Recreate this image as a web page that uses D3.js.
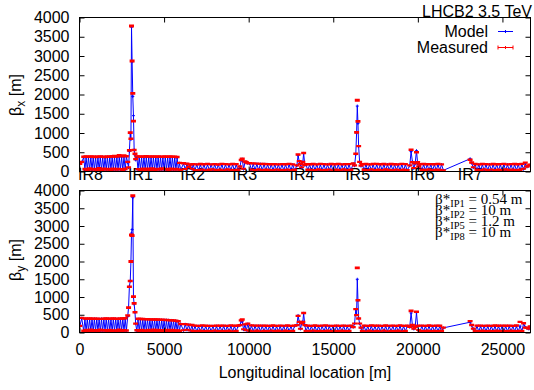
<!DOCTYPE html>
<html><head><meta charset="utf-8">
<script src="https://cdn.jsdelivr.net/npm/d3@7"></script>
<style>
html,body{margin:0;padding:0;background:#fff;}
svg text{font-family:"Liberation Sans",Arial,Helvetica,sans-serif;}
svg text.serif{font-family:"Liberation Serif","Times New Roman",serif;}
</style></head><body>
<svg id="chart" width="534" height="390"></svg>
<script>
// LHC beam 2 optics at 3.5 TeV: model and measured beta functions at the BPMs.
const ringLength = 26659;

// BPM longitudinal positions [m], grouped by insertion / arc
const sPos = [
  20, 130,
  250, 320, 390, 460, 530, 600, 670, 740, 810, 880, 950, 1020, 1090, 1160, 1230, 1300, 1370, 1440, 1510, 1580, 1650, 1720, 1790, 1860, 1930, 2000, 2070, 2140, 2210, 2280, 2350, 2420, 2490, 2560, 2630, 2700, 2770,
  2850, 2900, 2950, 3000, 3040, 3075, 3110, 3150, 3190, 3230, 3280, 3320,
  3390, 3460, 3530, 3600, 3670, 3740, 3810, 3880, 3950, 4020, 4090, 4160, 4230, 4300, 4370, 4440, 4510, 4580, 4650, 4720, 4790, 4860, 4930, 5000, 5070, 5140, 5210, 5280, 5350, 5420, 5490, 5560, 5630, 5700, 5770, 5840, 5910, 5980,
  6150, 6250, 6350, 6450, 6550, 6650,
  6720, 6826, 6932, 7038, 7144, 7250, 7356, 7462, 7568, 7674, 7780, 7886, 7992, 8098, 8204, 8310, 8416, 8522, 8628, 8734, 8840, 8946, 9052, 9158, 9264, 9370,
  9480, 9560, 9620, 9700, 9780, 9860, 9950,
  10060, 10166, 10272, 10378, 10484, 10590, 10696, 10802, 10908, 11014, 11120, 11226, 11332, 11438, 11544, 11650, 11756, 11862, 11968, 12074, 12180, 12286, 12392, 12498, 12604, 12710,
  12850, 12920, 12990, 13060, 13130, 13200, 13250, 13320,
  13390, 13496, 13602, 13708, 13814, 13920, 14026, 14132, 14238, 14344, 14450, 14556, 14662, 14768, 14874, 14980, 15086, 15192, 15298, 15404, 15510, 15616, 15722, 15828, 15934, 16040,
  16180, 16260, 16330, 16380, 16420, 16460, 16500, 16560, 16640,
  16720, 16826, 16932, 17038, 17144, 17250, 17356, 17462, 17568, 17674, 17780, 17886, 17992, 18098, 18204, 18310, 18416, 18522, 18628, 18734, 18840, 18946, 19052, 19158, 19264, 19370,
  19520, 19600, 19680, 19760, 19840, 19920, 19990, 20050,
  20130, 20236, 20342, 20448, 20554, 20660, 20766, 20872, 20978, 21084, 21190, 21296, 21402, 21508,
  23090, 23180, 23280,
  23390, 23496, 23602, 23708, 23814, 23920, 24026, 24132, 24238, 24344, 24450, 24556, 24662, 24768, 24874, 24980, 25086, 25192, 25298, 25404, 25510, 25616, 25722, 25828, 25934, 26040,
  26150, 26250, 26350, 26450, 26560, 26640
];

// Horizontal beta, model [m]
const betxModel = [
  190, 240,
  370, 43, 374, 41, 371, 44, 369, 42, 373, 43, 375, 40, 372, 44, 370, 42, 376, 43, 372, 41, 374, 45, 371, 44, 377, 42, 380, 43, 376, 41, 385, 44, 378, 42, 390, 44, 385,
  230, 100, 520, 1000, 830, 3750, 2850, 1950, 1450, 560, 430, 300,
  375, 44, 372, 42, 370, 43, 374, 41, 371, 44, 369, 42, 373, 43, 372, 40, 370, 44, 368, 42, 371, 43, 369, 41, 372, 44, 368, 42, 370, 43, 366, 42, 365, 41, 362, 43, 215, 40,
  205, 60, 190, 110, 170, 60,
  178, 32, 180, 31, 177, 33, 179, 32, 181, 30, 178, 32, 180, 33, 177, 31, 179, 32, 180, 30, 178, 33, 181, 32, 179, 31,
  120, 290, 320, 60, 250, 230, 210,
  205, 35, 200, 34, 196, 33, 192, 32, 188, 31, 185, 32, 182, 30, 180, 33, 179, 31, 181, 32, 178, 30, 180, 33, 179, 31,
  150, 420, 260, 180, 100, 240, 470, 160,
  180, 32, 178, 31, 181, 33, 179, 30, 180, 32, 177, 31, 180, 33, 178, 30, 181, 32, 179, 31, 180, 33, 178, 32, 181, 30,
  200, 150, 440, 1000, 1700, 1250, 650, 240, 140,
  179, 31, 181, 32, 178, 30, 180, 33, 179, 31, 182, 32, 178, 30, 180, 33, 177, 31, 181, 32, 179, 30, 180, 33, 178, 31,
  150, 520, 250, 80, 200, 540, 200, 120,
  180, 32, 178, 31, 181, 33, 179, 30, 180, 32, 178, 31, 181, 30,
  330, 220, 100,
  181, 30, 179, 32, 180, 31, 178, 33, 181, 30, 179, 32, 180, 31, 177, 33, 180, 30, 178, 32, 181, 31, 179, 33, 180, 30,
  180, 60, 200, 120, 150, 170
];

// Horizontal beta, measured [m]
const betxMeas = [
  200, 250,
  385, 62, 390, 40, 382, 75, 388, 48, 384, 66, 380, 38, 386, 80, 392, 44, 385, 70, 378, 52, 388, 60, 383, 46, 392, 72, 400, 50, 390, 64, 420, 58, 395, 45, 415, 68, 395,
  250, 110, 550, 1010, 850, 3780, 2870, 2030, 1310, 560, 460, 320,
  392, 60, 388, 42, 385, 72, 390, 45, 395, 68, 388, 40, 386, 78, 392, 46, 384, 64, 390, 50, 386, 74, 380, 55, 388, 62, 384, 44, 390, 70, 382, 48, 386, 66, 378, 52, 225, 45,
  215, 65, 200, 120, 180, 70,
  190, 38, 185, 34, 195, 48, 188, 30, 200, 44, 186, 52, 192, 35, 184, 46, 198, 33, 190, 50, 187, 41, 196, 34, 189, 47,
  130, 300, 330, 70, 262, 240, 215,
  218, 48, 210, 36, 205, 52, 200, 35, 195, 46, 190, 41, 188, 34, 192, 50, 186, 40, 194, 36, 188, 48, 196, 39, 185, 44,
  160, 440, 270, 190, 110, 250, 480, 170,
  192, 46, 188, 40, 196, 34, 185, 50, 199, 35, 190, 42, 187, 48, 194, 33, 189, 45, 197, 35, 186, 52, 193, 37, 190, 44,
  210, 160, 460, 1015, 1850, 1300, 660, 250, 150,
  188, 47, 195, 34, 186, 51, 193, 36, 198, 44, 189, 39, 194, 50, 187, 40, 196, 34, 190, 48, 185, 36, 197, 45, 191, 39,
  160, 565, 240, 90, 210, 500, 242, 130,
  190, 46, 196, 40, 187, 52, 194, 38, 189, 45, 198, 41, 186, 33,
  305, 234, 110,
  194, 45, 188, 39, 197, 50, 190, 37, 186, 48, 195, 34, 189, 46, 193, 36, 199, 50, 187, 40, 192, 47, 196, 39, 188, 44,
  200, 70, 230, 130, 160, 180
];

// Horizontal beta, measurement uncertainty [m]
const betxErr = [
  12, 12,
  12, 14, 14, 12, 11, 15, 13, 12, 12, 14, 15, 12, 12, 15, 13, 12, 12, 14, 14, 12, 13, 15, 12, 12, 14, 14, 15, 12, 13, 14, 18, 13, 14, 12, 16, 14, 14,
  12, 10, 15, 15, 15, 20, 18, 18, 15, 12, 12, 10,
  12, 14, 13, 12, 12, 14, 13, 12, 12, 14, 13, 12, 12, 14, 13, 12, 12, 14, 13, 12, 12, 14, 13, 12, 12, 14, 13, 12, 12, 14, 13, 12, 12, 14, 13, 12, 12, 10,
  12, 8, 12, 10, 12, 8,
  10, 10, 11, 9, 10, 12, 12, 9, 10, 12, 11, 10, 10, 9, 12, 12, 10, 9, 11, 12, 10, 10, 12, 9, 10, 12,
  10, 12, 12, 8, 12, 12, 10,
  11, 12, 10, 9, 12, 12, 10, 9, 11, 12, 10, 9, 12, 12, 10, 9, 11, 12, 10, 9, 12, 12, 10, 9, 11, 12,
  10, 12, 12, 10, 8, 12, 12, 10,
  10, 12, 12, 9, 11, 9, 10, 12, 12, 9, 11, 10, 10, 12, 12, 9, 11, 12, 10, 9, 12, 12, 11, 9, 10, 12,
  10, 10, 12, 15, 20, 15, 12, 10, 10,
  12, 12, 10, 9, 11, 12, 12, 9, 10, 12, 11, 9, 12, 12, 10, 9, 11, 9, 12, 12, 10, 9, 11, 12, 12, 9,
  10, 15, 12, 8, 10, 15, 12, 10,
  10, 12, 11, 9, 12, 12, 10, 9, 11, 12, 12, 9, 10, 8,
  12, 12, 8,
  11, 12, 10, 9, 12, 12, 11, 9, 10, 12, 12, 9, 11, 12, 10, 9, 12, 12, 11, 9, 10, 12, 12, 9, 11, 12,
  10, 8, 12, 10, 10, 10
];

// Vertical beta, model [m]
const betyModel = [
  180, 400,
  40, 380, 42, 382, 41, 379, 43, 381, 40, 383, 42, 380, 44, 378, 41, 382, 43, 380, 42, 384, 40, 382, 43, 379, 41, 381, 44, 383, 40, 380, 42, 384, 43, 382, 41, 386, 45,
  450, 700, 1300, 1450, 2000, 2800, 2900, 3800, 1000, 800, 570, 250,
  44, 372, 42, 370, 41, 368, 43, 366, 40, 365, 42, 362, 44, 360, 41, 358, 43, 356, 42, 354, 40, 352, 43, 350, 41, 348, 44, 345, 42, 340, 40, 335, 43, 325, 41, 310, 45, 240,
  60, 230, 70, 215, 50, 200,
  30, 180, 32, 178, 31, 181, 33, 179, 30, 180, 32, 177, 31, 180, 33, 178, 30, 181, 32, 179, 31, 180, 33, 178, 30, 181,
  200, 330, 300, 80, 220, 60, 240,
  34, 190, 33, 188, 32, 186, 31, 184, 30, 182, 32, 181, 31, 180, 33, 178, 30, 180, 32, 179, 31, 181, 33, 178, 30, 180,
  200, 480, 300, 100, 250, 300, 540, 200,
  31, 181, 33, 179, 30, 180, 32, 178, 31, 181, 33, 179, 30, 180, 32, 177, 31, 180, 33, 178, 30, 181, 32, 179, 31, 180,
  150, 250, 650, 500, 1500, 900, 400, 250, 130,
  32, 180, 30, 178, 33, 181, 31, 179, 32, 180, 30, 177, 33, 181, 31, 179, 32, 180, 30, 178, 33, 181, 31, 179, 32, 180,
  150, 550, 200, 100, 150, 560, 180, 60,
  31, 180, 33, 178, 30, 181, 32, 179, 31, 180, 33, 178, 30, 130,
  290, 200, 100,
  30, 180, 32, 178, 31, 181, 33, 179, 30, 180, 32, 178, 31, 181, 33, 179, 30, 180, 32, 177, 31, 180, 33, 178, 30, 181,
  40, 250, 150, 120, 100, 160
];

// Vertical beta, measured [m]
const betyMeas = [
  186, 410,
  46, 395, 70, 390, 44, 392, 78, 388, 47, 386, 62, 390, 51, 385, 75, 383, 53, 388, 66, 392, 46, 386, 72, 390, 50, 394, 60, 388, 48, 385, 74, 392, 52, 395, 64, 400, 55,
  480, 700, 1290, 1450, 2000, 2750, 2730, 3850, 1010, 820, 570, 250,
  62, 385, 46, 380, 74, 378, 52, 375, 45, 372, 70, 370, 47, 368, 76, 366, 46, 364, 68, 362, 48, 360, 60, 356, 50, 352, 72, 350, 46, 345, 66, 340, 52, 332, 58, 318, 50, 235,
  65, 238, 75, 220, 55, 210,
  45, 195, 38, 186, 50, 200, 40, 190, 46, 188, 42, 185, 52, 196, 38, 189, 47, 192, 40, 186, 50, 198, 34, 190, 46, 194,
  210, 340, 365, 90, 230, 62, 250,
  48, 200, 36, 195, 50, 194, 35, 192, 46, 190, 41, 188, 52, 196, 37, 186, 48, 192, 36, 190, 50, 198, 39, 188, 45, 194,
  210, 470, 300, 105, 260, 300, 550, 210,
  46, 194, 39, 188, 52, 197, 40, 186, 45, 192, 38, 199, 50, 190, 41, 187, 47, 195, 39, 189, 50, 193, 37, 186, 46, 196,
  150, 254, 660, 490, 1820, 910, 395, 254, 140,
  47, 192, 34, 186, 50, 198, 35, 189, 46, 194, 33, 187, 51, 196, 36, 190, 44, 193, 39, 185, 49, 199, 35, 188, 47, 195,
  160, 610, 210, 110, 160, 582, 190, 70,
  46, 192, 39, 186, 50, 197, 40, 188, 45, 194, 38, 190, 48, 135,
  320, 210, 110,
  44, 191, 38, 196, 50, 188, 40, 194, 46, 187, 39, 198, 48, 190, 37, 193, 45, 189, 41, 195, 50, 186, 38, 197, 44, 300,
  45, 260, 140, 130, 110, 170
];

// Vertical beta, measurement uncertainty [m]
const betyErr = [
  12, 12,
  14, 12, 15, 12, 14, 13, 15, 15, 13, 12, 14, 14, 13, 12, 15, 13, 14, 12, 13, 14, 14, 12, 15, 13, 14, 12, 13, 14, 14, 12, 15, 13, 14, 12, 13, 16, 13,
  12, 15, 15, 15, 18, 20, 20, 20, 15, 15, 12, 10,
  14, 13, 15, 12, 14, 13, 15, 12, 14, 13, 15, 12, 14, 13, 15, 12, 14, 13, 15, 12, 14, 13, 15, 12, 14, 13, 15, 12, 14, 13, 15, 12, 14, 13, 15, 12, 14, 12,
  8, 12, 8, 12, 8, 12,
  12, 10, 9, 11, 12, 10, 9, 12, 12, 10, 9, 11, 12, 10, 9, 12, 12, 10, 9, 11, 12, 10, 9, 12, 12, 10,
  10, 12, 12, 8, 12, 8, 12,
  12, 11, 9, 10, 12, 12, 9, 10, 12, 11, 9, 10, 12, 12, 9, 10, 12, 11, 9, 10, 12, 12, 9, 10, 12, 11,
  10, 12, 12, 8, 12, 12, 12, 10,
  12, 10, 9, 12, 12, 11, 9, 10, 12, 12, 9, 11, 12, 10, 9, 12, 12, 11, 9, 10, 12, 12, 9, 11, 12, 10,
  10, 10, 12, 12, 20, 15, 12, 10, 10,
  12, 12, 9, 10, 12, 11, 9, 12, 12, 10, 9, 11, 12, 12, 9, 10, 12, 11, 9, 12, 12, 10, 9, 11, 12, 12,
  10, 15, 12, 8, 10, 15, 12, 8,
  12, 10, 9, 11, 12, 12, 9, 10, 12, 11, 9, 12, 12, 10,
  12, 12, 8,
  12, 11, 9, 10, 12, 12, 9, 11, 12, 10, 9, 12, 12, 11, 9, 10, 12, 12, 9, 11, 12, 10, 9, 12, 12, 11,
  8, 12, 10, 10, 10, 10
];

// Insertion region names and where their labels sit along the ring [m]
const irNames = ["IR8", "IR1", "IR2", "IR3", "IR4", "IR5", "IR6", "IR7"];
const irLabelS = [650, 3610, 6690, 9770, 13150, 16440, 20260, 23100];

const betaTicks = [0, 500, 1000, 1500, 2000, 2500, 3000, 3500, 4000];
const sTicks = [0, 5000, 10000, 15000, 20000, 25000];

// Beta* settings at the interaction points
const betaStarIP = ["IP1", "IP2", "IP5", "IP8"];
const betaStarValue = ["0.54 m", "10 m", "1.2 m", "10 m"];

const svg = d3.select("#chart");
const x = d3.scaleLinear().domain([0, ringLength]).range([79.5, 530.5]);

const panels = [
  { model: betxModel, meas: betxMeas, err: betxErr, bottom: 171.5, top: 17.5, sub: "x", labelY: 95, xLabels: false },
  { model: betyModel, meas: betyMeas, err: betyErr, bottom: 332.5, top: 190.5, sub: "y", labelY: 260, xLabels: true }
];

panels.forEach((p, i) => {
  const y = d3.scaleLinear().domain([0, 4000]).range([p.bottom, p.top]);
  const g = svg.append("g");

  const clipId = "plotclip" + i;
  svg.append("clipPath").attr("id", clipId)
    .append("rect").attr("x", 79.5).attr("y", p.top).attr("width", 451).attr("height", p.bottom - p.top);

  // insertion labels sit behind the data of the upper panel
  if (!p.xLabels) {
    g.append("g").selectAll("text").data(irNames).join("text")
      .attr("x", (d, k) => x(irLabelS[k]))
      .attr("y", p.bottom + 8.5)
      .attr("text-anchor", "middle")
      .attr("font-size", 16)
      .attr("fill", "#000")
      .text(d => d);
  }

  const rows = sPos.map((s, k) => ({ s, m: p.model[k], d: p.meas[k], e: p.err[k] }));
  const plot = g.append("g").attr("clip-path", `url(#${clipId})`);

  // model: line with small point marks
  plot.append("path").datum(rows)
    .attr("d", d3.line().x(d => x(d.s)).y(d => y(d.m)))
    .attr("fill", "none").attr("stroke", "#0000ff").attr("stroke-width", 1);
  plot.append("path")
    .attr("d", rows.map(d => `M${x(d.s) - 1.5},${y(d.m)}h3M${x(d.s)},${y(d.m) - 1.5}v3`).join(""))
    .attr("fill", "none").attr("stroke", "#0000ff").attr("stroke-width", 1);

  // measurement: y error bars with caps
  plot.append("g").selectAll("path").data(rows).join("path")
    .attr("d", d => {
      const xx = x(d.s), lo = y(d.d - d.e), hi = y(d.d + d.e);
      return `M${xx},${lo}V${hi}M${xx - 2.5},${lo}h5M${xx - 2.5},${hi}h5`;
    })
    .attr("fill", "none").attr("stroke", "#ff0000").attr("stroke-width", 1.5);

  // axes with inward ticks on all four sides
  const styleAxis = sel => {
    sel.select(".domain").remove();
    sel.selectAll("line").attr("stroke", "#000");
    sel.selectAll("text").attr("font-size", 16).attr("fill", "#000");
  };
  g.append("g").attr("transform", "translate(79.5,0)")
    .call(d3.axisLeft(y).tickValues(betaTicks).tickSize(-5).tickPadding(10).tickFormat(d3.format("d"))).call(styleAxis);
  g.append("g").attr("transform", "translate(530.5,0)")
    .call(d3.axisRight(y).tickValues(betaTicks).tickSize(-5).tickFormat("")).call(styleAxis);
  g.append("g").attr("transform", `translate(0,${p.bottom})`)
    .call(d3.axisBottom(x).tickValues(sTicks).tickSize(-5).tickPadding(11)
      .tickFormat(p.xLabels ? d3.format("d") : "")).call(styleAxis);
  g.append("g").attr("transform", `translate(0,${p.top})`)
    .call(d3.axisTop(x).tickValues(sTicks).tickSize(-5).tickFormat("")).call(styleAxis);

  g.append("rect").attr("x", 79.5).attr("y", p.top).attr("width", 451).attr("height", p.bottom - p.top)
    .attr("fill", "none").attr("stroke", "#000").attr("stroke-width", 1);

  // y axis title: beta with plane subscript
  const yt = g.append("text")
    .attr("transform", `translate(21,${p.labelY}) rotate(-90)`)
    .attr("text-anchor", "middle").attr("font-size", 16).attr("fill", "#000");
  yt.append("tspan").text("β");
  yt.append("tspan").attr("font-size", 12).attr("dy", 4).text(p.sub);
  yt.append("tspan").attr("dy", -4).text(" [m]");
});

// x axis title
svg.append("text").attr("x", 305).attr("y", 378).attr("text-anchor", "middle")
  .attr("font-size", 16).attr("fill", "#000").text("Longitudinal location [m]");

// title
svg.append("text").attr("x", 532).attr("y", 16.5).attr("text-anchor", "end")
  .attr("font-size", 16).attr("fill", "#000").text("LHCB2 3.5 TeV");

// legend
const legend = svg.append("g");
legend.append("text").attr("x", 488).attr("y", 37).attr("text-anchor", "end")
  .attr("font-size", 16).attr("fill", "#000").text("Model");
legend.append("text").attr("x", 488).attr("y", 53).attr("text-anchor", "end")
  .attr("font-size", 16).attr("fill", "#000").text("Measured");
legend.append("path").attr("d", "M498,31.5H513M505.5,30v3").attr("stroke", "#0000ff").attr("fill", "none");
legend.append("path").attr("d", "M498,47.5H513M498,45.5v4M513,45.5v4M505.5,46v3")
  .attr("stroke", "#ff0000").attr("fill", "none");

// beta* annotation
const note = svg.append("g");
betaStarIP.forEach((ip, k) => {
  const t = note.append("text").attr("class", "serif")
    .attr("x", 435).attr("y", 203.5 + k * 11).attr("font-size", 15).attr("fill", "#000");
  t.append("tspan").text("β*");
  t.append("tspan").attr("font-size", 10.5).attr("dy", 3).text(ip);
  t.append("tspan").attr("dy", -3).text(" = " + betaStarValue[k]);
});
</script>
</body></html>
